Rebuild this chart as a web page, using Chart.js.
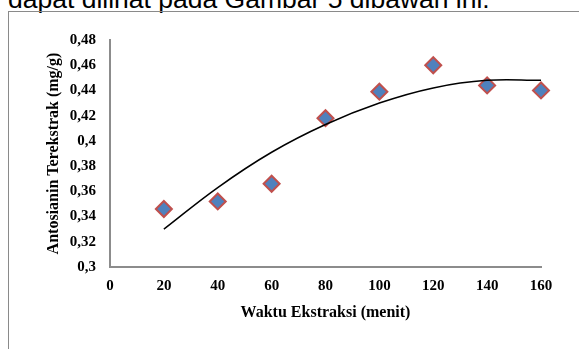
<!DOCTYPE html>
<html>
<head>
<meta charset="utf-8">
<script src="https://cdn.jsdelivr.net/npm/chart.js@4.4.1/dist/chart.umd.min.js"></script>
<style>
  html, body { margin: 0; padding: 0; background: #fff; overflow: hidden; }
  #wrap { position: relative; width: 579px; height: 349px; overflow: hidden; }
  #caption { position: absolute; left: 8px; top: -14.5px; font-family: "Liberation Sans", Arial, sans-serif; font-size: 26.5px; line-height: 1; color: #000; white-space: nowrap; }
  #frame { position: absolute; left: 8px; top: 11px; width: 700px; height: 500px; border: 1px solid #8a8a8a; box-sizing: border-box; }
  #c { position: absolute; left: 0; top: 0; }
</style>
</head>
<body>
<div id="wrap">
  <div id="caption">dapat dilihat pada Gambar 5 dibawah ini.</div>
  <div id="frame"></div>
  <canvas id="c" width="579" height="349"></canvas>
</div>
<script>
const waktu = [20, 40, 60, 80, 100, 120, 140, 160];
const antosianin = [0.346, 0.352, 0.366, 0.418, 0.439, 0.460, 0.444, 0.440];
const trendValues = [0.330, 0.363, 0.391, 0.413, 0.430, 0.442, 0.448, 0.448];
const xTickLabels = ['0', '20', '40', '60', '80', '100', '120', '140', '160'];
const yTickLabels = ['0,3', '0,32', '0,34', '0,36', '0,38', '0,4', '0,42', '0,44', '0,46', '0,48'];
const xTitle = 'Waktu Ekstraksi (menit)';
const yTitle = 'Antosianin Terekstrak (mg/g)';

const serif = '"Liberation Serif", "Times New Roman", serif';

new Chart(document.getElementById('c'), {
  type: 'scatter',
  data: {
    datasets: [
      {
        type: 'line',
        data: waktu.map((x, i) => ({ x: x, y: trendValues[i] })),
        borderColor: '#000',
        borderWidth: 1.5,
        pointRadius: 0,
        tension: 0.4,
        fill: false,
        clip: false
      },
      {
        data: waktu.map((x, i) => ({ x: x, y: antosianin[i] })),
        pointStyle: 'rectRot',
        pointRadius: 8,
        pointBackgroundColor: '#4F81BD',
        pointBorderColor: '#C0504D',
        pointBorderWidth: 2,
        clip: false
      }
    ]
  },
  options: {
    responsive: false,
    animation: false,
    devicePixelRatio: 1,
    layout: { padding: { left: 0, top: 40, right: 38, bottom: 0 } },
    plugins: { legend: { display: false }, tooltip: { enabled: false } },
    scales: {
      x: {
        type: 'linear',
        min: 0, max: 160,
        afterFit: s => { s.height = 82; },
        ticks: { stepSize: 20, padding: 10, color: '#000', font: { family: serif, size: 15, weight: 'bold' },
                 callback: (v, i) => xTickLabels[i] },
        grid: { display: false, drawTicks: false },
        border: { display: true, color: '#8c8c8c', width: 2 },
        title: { display: true, text: xTitle, color: '#000', font: { family: serif, size: 16, weight: 'bold' }, padding: { top: 0, bottom: 27 } }
      },
      y: {
        min: 0.3, max: 0.48,
        afterFit: s => { s.width = 110; },
        ticks: { stepSize: 0.02, padding: 14, color: '#000', font: { family: serif, size: 15, weight: 'bold' },
                 callback: (v, i) => yTickLabels[i] },
        grid: { display: false, drawTicks: false },
        border: { display: true, color: '#8c8c8c', width: 2 },
        title: { display: true, text: yTitle, color: '#000', font: { family: serif, size: 16, weight: 'bold' }, padding: { top: 44, bottom: 0 } }
      }
    }
  }
});
</script>
</body>
</html>
